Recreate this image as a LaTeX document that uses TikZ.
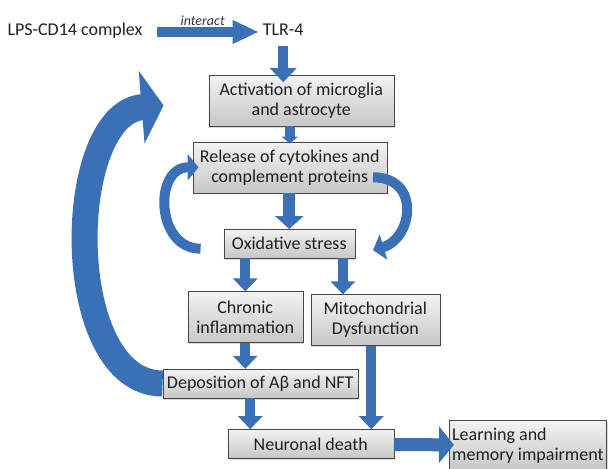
\documentclass[tikz,border=0pt]{standalone}
\usepackage{fontspec}
\setmainfont{Carlito}
\usetikzlibrary{positioning, arrows.meta, shadows}
\definecolor{blue}{RGB}{58,112,182}
\tikzstyle{box}=[rectangle, draw=black!72, top color=black!5, bottom color=black!22, text=black!88, align=center, inner sep=2pt, drop shadow={shadow xshift=1.5pt, shadow yshift=-1.5pt, opacity=.3}]
\tikzstyle{plain}=[inner sep=0pt, text height=12pt, text depth=4pt, text=black!88]
\tikzstyle{flow}=[draw=blue, line width=10pt, -{Triangle[width=24pt,length=13pt]}]

\begin{document}
\begin{tikzpicture}[x=1pt, y=-1pt, font=\fontsize{18}{20}\selectfont]
            \useasboundingbox (0,0) rectangle (609,468);
            %Receptor line at the top
            \node[plain](lps) at (75,32){LPS-CD14 complex};
            \node[plain, right = 120pt of lps](tlr){TLR-4};

            %Boxes of the cascade
            \node[box, minimum width=185pt, minimum height=51pt, below = 35pt of tlr, xshift=18pt](act){Activation of microglia\\and astrocyte};
            \node[box, minimum width=194pt, minimum height=51pt, below = 15pt of act, xshift=-11.5pt](rel){Release of cytokines and\\complement proteins};
            \node[box, minimum width=131pt, minimum height=29pt, below = 36pt of rel, xshift=-.5pt](oxi){Oxidative stress};
            \node[box, minimum width=115pt, minimum height=51pt, below = 33pt of oxi, xshift=-44pt](chr){Chronic\\inflammation};
            \node[box, minimum width=129pt, minimum height=51pt, below = 36pt of oxi, xshift=86pt](mit){Mitochondrial\\Dysfunction};
            \node[box, minimum width=195pt, minimum height=29pt, below = 26pt of chr, xshift=15pt](dep){Deposition of Aβ and NFT};
            \node[box, minimum width=166pt, minimum height=29pt, below = 31pt of dep, xshift=50.5pt](neu){Neuronal death};
            \node[box, align=left, inner xsep=3pt, minimum height=50pt, right = 55pt of neu, yshift=-1.5pt](lea){Learning and\\memory impairment};

            %Straight arrows
            \draw[flow, -{Triangle[width=22pt,length=26pt]}, shorten <=14pt, shorten >=4pt] (lps) -- node[midway, above=1pt, inner sep=0pt, font=\fontsize{14}{16}\selectfont\itshape, text=black!80](int){interact} (tlr);
            \draw[flow, -{Triangle[width=26pt,length=14pt]}, shorten <=6pt, shorten >=-7pt] (tlr.south) -- (tlr.south |- act.north);
            \draw[flow, -{Triangle[width=16pt,length=7pt]}, shorten <=-1pt, shorten >=-2pt] (act.south -| rel) -- (rel.north);
            \draw[flow, line width=12pt, -{Triangle[width=28pt,length=13pt]}] (rel.south -| oxi) -- (oxi.north);
            \draw[flow] (oxi.south -| chr) -- (chr.north);
            \draw[flow] ([xshift=-12pt]oxi.south east) -- ([xshift=-12pt]oxi.south east |- mit.north);
            \draw[flow] (chr.south) -- (dep.north -| chr);
            \draw[flow] ([xshift=-10pt]dep.south) -- ([xshift=-10pt]dep.south |- neu.north);
            \draw[flow] ([xshift=-4pt]mit.south) -- ([xshift=-4pt]mit.south |- neu.north);
            \draw[flow, line width=13pt, -{Triangle[width=36pt,length=15pt]}, shorten >=-5pt] (neu) -- (lea);

            %Feedback loops
            \draw[flow, -{Triangle[width=26pt,length=11pt]}] ([xshift=-23pt,yshift=-5pt]oxi.west) .. controls +(-45,0) and +(-45,0) .. ([xshift=6pt]rel.west);
            \draw[flow, -{Triangle[width=26pt,length=11pt]}] ([xshift=-14pt,yshift=-10pt]rel.east) .. controls +(48,0) and +(40,-12) .. ([xshift=18pt,yshift=-6.5pt]oxi.east);
            \draw[flow, line width=26pt, -{Triangle[width=72pt,length=22pt]}] (dep.west) .. controls +(-102,0) and +(-100,8) .. ([xshift=-45pt,yshift=-4.5pt]act.west);
        \end{tikzpicture}
\end{document}
